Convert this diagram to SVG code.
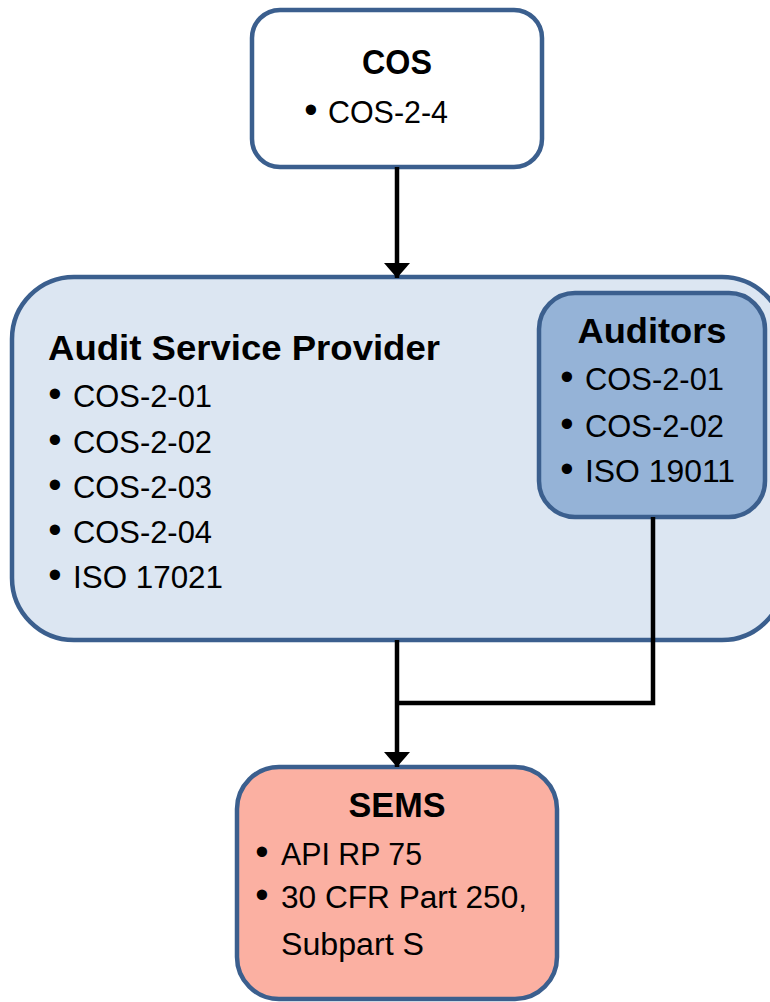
<svg xmlns="http://www.w3.org/2000/svg" width="770" height="1002" viewBox="0 0 770 1002">
<defs>
<style>
.box{stroke:#3b5f8e;stroke-width:4.5}
.t{font-family:"Liberation Sans",Arial,sans-serif;fill:#000}
.h{font-weight:bold;font-size:35px;text-anchor:middle}
.b{font-size:31px}
.d{font-size:38px}
.c{fill:none;stroke:#000;stroke-width:4.5}
</style>
<marker id="ah" viewBox="0 0 15 26" refX="15" refY="13" markerWidth="15" markerHeight="26" markerUnits="userSpaceOnUse" orient="auto">
<path d="M0,0 L15,13 L0,26 Z" fill="#000"/>
</marker>
</defs>
<g id="cos">
<rect class="box" x="252" y="10" width="290" height="157" rx="28" fill="#ffffff"/>
<text class="t h" x="397" y="74" textLength="70" lengthAdjust="spacingAndGlyphs">COS</text>
<text class="t b" y="123"><tspan class="d" x="304.3">•</tspan><tspan x="328" textLength="120" lengthAdjust="spacingAndGlyphs">COS-2-4</tspan></text>
</g>
<g id="asp">
<rect class="box" x="12" y="277" width="772" height="363" rx="62" fill="#dce6f2"/>
<text class="t h" x="48" y="360" style="text-anchor:start" textLength="392" lengthAdjust="spacingAndGlyphs">Audit Service Provider</text>
<text class="t b" y="407"><tspan class="d" x="48.3">•</tspan><tspan x="73" textLength="139" lengthAdjust="spacingAndGlyphs">COS-2-01</tspan></text>
<text class="t b" y="453"><tspan class="d" x="48.3">•</tspan><tspan x="73" textLength="139" lengthAdjust="spacingAndGlyphs">COS-2-02</tspan></text>
<text class="t b" y="498"><tspan class="d" x="48.3">•</tspan><tspan x="73" textLength="139" lengthAdjust="spacingAndGlyphs">COS-2-03</tspan></text>
<text class="t b" y="543"><tspan class="d" x="48.3">•</tspan><tspan x="73" textLength="139" lengthAdjust="spacingAndGlyphs">COS-2-04</tspan></text>
<text class="t b" y="588"><tspan class="d" x="48.3">•</tspan><tspan x="73" textLength="150" lengthAdjust="spacingAndGlyphs">ISO 17021</tspan></text>
</g>
<g id="auditors">
<rect class="box" x="539" y="293" width="226" height="224" rx="36" fill="#95b3d7"/>
<text class="t h" x="652" y="343" textLength="149" lengthAdjust="spacingAndGlyphs">Auditors</text>
<text class="t b" y="390"><tspan class="d" x="560.3">•</tspan><tspan x="585" textLength="139" lengthAdjust="spacingAndGlyphs">COS-2-01</tspan></text>
<text class="t b" y="437"><tspan class="d" x="560.3">•</tspan><tspan x="585" textLength="139" lengthAdjust="spacingAndGlyphs">COS-2-02</tspan></text>
<text class="t b" y="482"><tspan class="d" x="560.3">•</tspan><tspan x="585" textLength="150" lengthAdjust="spacingAndGlyphs">ISO 19011</tspan></text>
</g>
<g id="sems">
<rect class="box" x="237" y="767" width="320" height="232" rx="42" fill="#fbb0a2"/>
<text class="t h" x="397" y="817" textLength="97" lengthAdjust="spacingAndGlyphs">SEMS</text>
<text class="t b" y="865"><tspan class="d" x="255.3">•</tspan><tspan x="281" textLength="141" lengthAdjust="spacingAndGlyphs">API RP 75</tspan></text>
<text class="t b" y="908"><tspan class="d" x="255.3">•</tspan><tspan x="281" textLength="246" lengthAdjust="spacingAndGlyphs">30 CFR Part 250,</tspan></text>
<text class="t b" x="281" y="955" textLength="143" lengthAdjust="spacingAndGlyphs">Subpart S</text>
</g>
<g id="connectors">
<line class="c" x1="397" y1="167" x2="397" y2="278" marker-end="url(#ah)"/>
<line class="c" x1="397" y1="640" x2="397" y2="767" marker-end="url(#ah)"/>
<polyline class="c" points="653,517 653,703 397,703"/>
</g>
</svg>
